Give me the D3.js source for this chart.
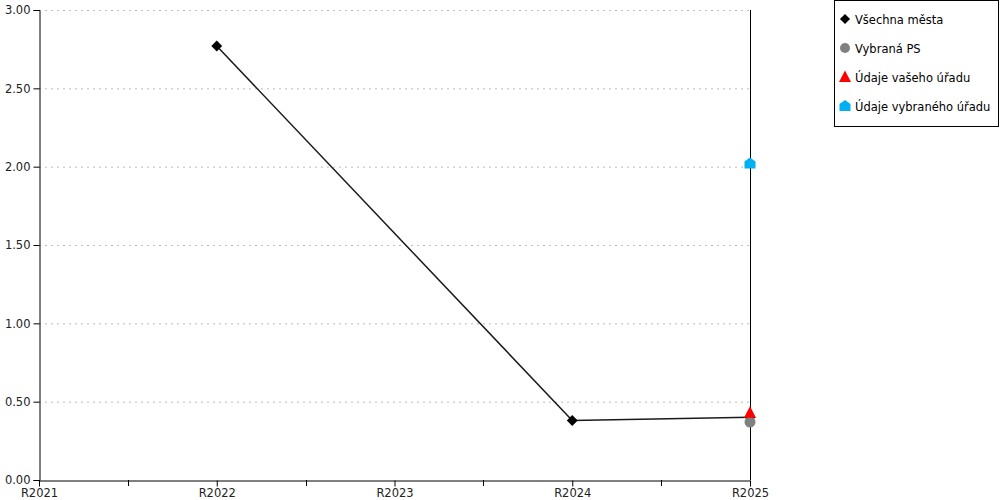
<!DOCTYPE html>
<html><head><meta charset="utf-8">
<script src="https://cdn.jsdelivr.net/npm/d3@7"></script>
<style>body{margin:0;background:#fff}svg{display:block;font-family:"DejaVu Sans",Verdana,sans-serif}</style>
</head><body><svg id="c" width="1000" height="500"></svg>
<script>
const categories = ["R2021","R2022","R2023","R2024","R2025"];
const yTicks = [0,0.5,1,1.5,2,2.5,3];
const allCities = [{x:"R2022",y:2.77},{x:"R2024",y:0.38},{x:"R2025",y:0.40}];
const selectedPS = [{x:"R2025",y:0.37}];
const yourOffice = [{x:"R2025",y:0.43}];
const selectedOffice = [{x:"R2025",y:2.02}];
const legendLabels = ["Všechna města","Vybraná PS","Údaje vašeho úřadu","Údaje vybraného úřadu"];

const svg = d3.select("#c");
const L=39,R=750,T=10,B=480;
const x = d3.scalePoint().domain(categories).range([L,R]);
const y = d3.scaleLinear().domain([0,3]).range([B,T]);

// grid
svg.append("g").selectAll("line").data(yTicks.filter(d=>d>0)).join("line")
  .attr("x1",L).attr("x2",R).attr("y1",d=>y(d)+0.5).attr("y2",d=>y(d)+0.5)
  .attr("stroke","#bbb").attr("stroke-dasharray","2,4");

// y axis
const ya = svg.append("g").attr("transform",`translate(${L+0.5},0)`)
  .call(d3.axisLeft(y).tickValues(yTicks).tickFormat(d3.format(".2f")).tickSize(6).tickPadding(3));
ya.selectAll("text").attr("font-size",11.5).attr("fill","#222").attr("font-family","DejaVu Sans, sans-serif");
ya.select(".domain").attr("stroke","#000");
ya.selectAll(".tick line").attr("stroke","#000");

// x axis
const xa = svg.append("g").attr("transform",`translate(0,${B+0.5})`)
  .call(d3.axisBottom(x).tickSize(6).tickPadding(2).tickSizeOuter(0));
xa.selectAll("text").attr("font-size",11.5).attr("fill","#222").attr("font-family","DejaVu Sans, sans-serif");
xa.select(".domain").attr("stroke","#000");
// minor ticks between categories
const mids = categories.slice(0,-1).map((c,i)=>(x(c)+x(categories[i+1]))/2);
svg.append("g").selectAll("line").data(mids).join("line")
  .attr("x1",d=>Math.round(d)+0.5).attr("x2",d=>Math.round(d)+0.5).attr("y1",B).attr("y2",B+6).attr("stroke","#000");

// right border
svg.append("line").attr("x1",R+0.5).attr("x2",R+0.5).attr("y1",T).attr("y2",B).attr("stroke","#000");

// line
svg.append("path").datum(allCities)
  .attr("d",d3.line().x(d=>x(d.x)).y(d=>y(d.y)))
  .attr("fill","none").attr("stroke","#1a1a1a").attr("stroke-width",1.5);

// markers
svg.append("g").selectAll("path").data(allCities).join("path")
  .attr("transform",d=>`translate(${x(d.x)},${y(d.y)})`)
  .attr("d",d3.symbol(d3.symbolDiamond2,75)()).attr("fill","#000");
svg.append("g").selectAll("circle").data(selectedPS).join("circle")
  .attr("cx",d=>x(d.x)).attr("cy",d=>y(d.y)).attr("r",5.5).attr("fill","#808080");
const tri = "M0,-6.5L6,5L-6,5Z";
svg.append("g").selectAll("path").data(yourOffice).join("path")
  .attr("transform",d=>`translate(${x(d.x)},${y(d.y)})`)
  .attr("d",tri).attr("fill","#ff0000");
const house = "M0,-6L5.5,-2L5.5,5L-5.5,5L-5.5,-2Z";
svg.append("g").selectAll("path").data(selectedOffice).join("path")
  .attr("transform",d=>`translate(${x(d.x)},${y(d.y)})`)
  .attr("d",house).attr("fill","#00b0f0");

// legend
const lg = svg.append("g");
lg.append("rect").attr("x",834.5).attr("y",0.5).attr("width",164).attr("height",126)
  .attr("fill","#fff").attr("stroke","#000");
const items = lg.selectAll("g").data(legendLabels).join("g")
  .attr("transform",(d,i)=>`translate(845,${19+i*29})`);
items.append("text").attr("x",10).attr("y",4.5).attr("font-size",11.5).attr("fill","#000").text(d=>d);
items.each(function(d,i){
  const g=d3.select(this);
  if(i===0) g.append("path").attr("d",d3.symbol(d3.symbolDiamond2,65)()).attr("fill","#000");
  if(i===1) g.append("circle").attr("r",5).attr("fill","#808080");
  if(i===2) g.append("path").attr("d",tri).attr("fill","#ff0000");
  if(i===3) g.append("path").attr("d",house).attr("fill","#00b0f0");
});
</script></body></html>
